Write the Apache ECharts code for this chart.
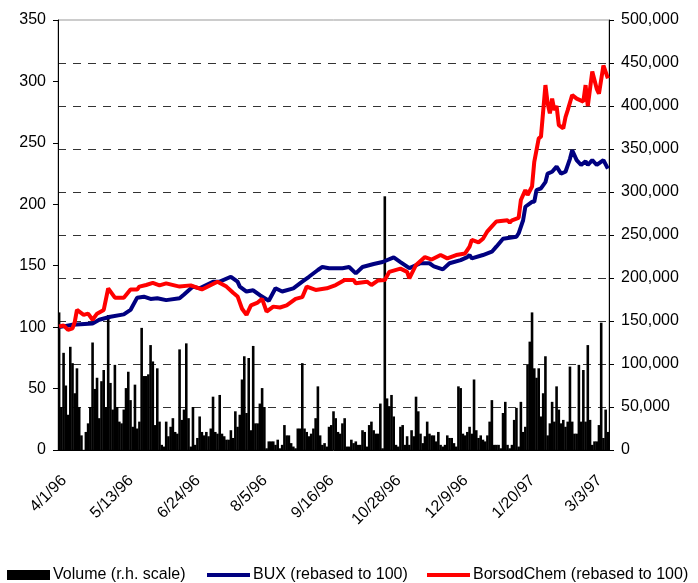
<!DOCTYPE html>
<html>
<head>
<meta charset="utf-8">
<script src="https://cdn.jsdelivr.net/npm/echarts@6/dist/echarts.min.js"></script>
<style>
  html, body { margin: 0; padding: 0; background: #fff; }
  #chart { width: 698px; height: 583px; }
</style>
</head>
<body>
<div id="chart"></div>
<script>
// daily trading volume (shares), one per business day from 4/1/96
const volume = [
  160000, 50000, 113000, 75000, 41000, 120000, 101000, 66000, 95000, 50000,
  17000, 0, 21000, 31000, 50000, 125000, 71000, 84000, 37000, 80000,
  93000, 50000, 157000, 78000, 47000, 99000, 50000, 33000, 31000, 47000,
  72000, 91000, 58000, 27000, 76000, 25000, 33000, 142000, 86000, 86000,
  88000, 122000, 103000, 29000, 95000, 33000, 6000, 4000, 33000, 16000,
  27000, 37000, 21000, 19000, 117000, 35000, 47000, 124000, 37000, 4000,
  50000,
  6000, 14000, 39000, 21000, 17000, 21000, 16000, 25000, 62000, 21000,
  19000, 64000, 19000, 16000, 12000, 12000, 23000, 14000, 45000, 27000,
  41000, 82000, 109000, 43000, 107000, 23000, 121000, 31000, 31000, 54000,
  72000, 50000, 2000, 10000, 10000, 10000, 6000, 12000, 2000, 6000,
  29000, 17000, 17000, 8000, 4000, 2000, 25000, 25000, 101000, 25000,
  21000, 16000, 19000, 25000, 37000, 74000, 17000, 6000, 8000, 4000,
  27000, 29000,
  45000, 37000, 21000, 19000, 31000, 37000, 4000, 4000, 12000, 8000,
  10000, 6000, 6000, 23000, 21000, 4000, 29000, 33000, 23000, 19000,
  19000, 54000, 2000, 295000, 60000, 51000, 64000, 39000, 6000, 4000,
  27000, 29000, 6000, 16000, 6000, 23000, 16000, 62000, 45000, 19000,
  8000, 16000, 33000, 19000, 17000, 17000, 10000, 21000, 6000, 4000,
  6000, 17000, 14000, 14000, 8000, 4000, 74000, 72000, 19000,
  17000, 21000, 27000, 19000, 82000, 23000, 14000, 17000, 12000, 10000,
  17000, 33000, 58000, 6000, 6000, 6000, 2000, 43000, 56000, 6000,
  2000, 6000, 35000, 49000, 4000, 56000, 21000, 27000, 99000, 126000,
  160000, 95000, 84000, 95000, 39000, 66000, 109000, 17000, 31000, 56000,
  33000, 74000, 47000, 31000, 35000, 27000, 33000, 97000, 33000, 19000,
  19000, 99000, 33000, 93000, 33000, 122000, 35000, 6000, 10000, 10000,
  29000, 148000, 14000, 47000, 21000
];

// [day index, value]
const bux = [
  [0, 100], [6, 102], [15, 103], [18, 106], [23, 108.5], [29, 110.4], [32, 114],
  [35, 124], [38, 124.8], [41, 123], [44, 123.5], [48, 122], [54, 123.5], [56, 126.6],
  [60, 133], [63, 131.6], [69, 137], [72, 137], [77, 141], [80, 137], [81, 133],
  [84, 129], [87, 130], [90, 126], [94, 121.5], [97, 131.6], [100, 129], [105, 131.6],
  [109, 137], [112, 141], [116, 146.5], [118, 149], [121, 148], [127, 148], [130, 149],
  [133, 143.8], [136, 149], [141, 151.4], [145, 153], [150, 156.8], [153, 153],
  [157, 148], [162, 152], [166, 152], [168, 149.5], [172, 147], [175, 152], [180, 154.6],
  [183, 157], [184, 158.7], [185, 156], [190, 158.7], [194, 161.4], [196, 165.5],
  [199, 172], [205, 173.6], [206, 176.4], [208, 187], [209, 198], [212, 202], [213, 202],
  [214, 211.6], [216, 213], [218, 218], [219, 225], [221, 226.5], [223, 230.6],
  [225, 225], [227, 226.5], [229, 237], [230, 244], [232, 236], [234, 232], [236, 235],
  [237, 232], [239, 236], [241, 232], [244, 236], [246, 229]
];

const borsod = [
  [0, 100.5], [2, 101.4], [4, 97.7], [6, 99], [7, 104], [8, 114], [11, 110], [13, 111],
  [15, 106], [17, 111], [20, 114], [22, 131.6], [25, 124], [29, 124], [32, 130.7],
  [35, 130.7], [36, 133], [39, 134.3], [42, 136], [45, 134], [48, 135.6], [54, 133],
  [59, 134], [64, 130.7], [71, 137], [75, 133], [78, 128], [80, 125], [82, 115],
  [84, 110], [86, 117.7], [89, 120], [91, 123], [93, 112.6], [96, 116.7], [99, 116],
  [102, 117.7], [106, 123], [109, 124.4], [111, 133], [115, 130.3], [120, 131.6],
  [124, 134.3], [128, 138.4], [132, 138.4], [133, 135.7], [138, 137], [140, 134.3],
  [143, 138], [146, 138.4], [148, 145], [153, 147.6], [156, 145], [157, 139.7],
  [160, 150.6], [164, 157], [167, 155], [171, 158.7], [174, 156], [178, 158.7],
  [182, 160], [184, 165.5], [185, 171], [188, 169], [190, 172], [192, 178], [194, 182],
  [196, 186], [201, 187], [202, 185], [203, 187], [206, 189], [207, 203.5], [209, 211.6],
  [210, 207.6], [212, 214.5], [213, 234.6], [215, 253.7], [216, 255], [218, 297],
  [219, 282], [220, 274], [221, 286], [222, 276.6], [223, 280], [224, 264.5],
  [226, 261.8], [227, 271], [228, 276.6], [230, 289], [232, 286], [235, 283.6],
  [236, 297], [237, 280], [239, 308], [241, 294], [242, 290], [244, 313], [246, 302.5]
];

const seriesNames = ['Volume (r.h. scale)', 'BUX (rebased to 100)', 'BorsodChem (rebased to 100)'];

// business days starting 4/1/96
const dates = [];
const d = new Date(1996, 3, 1);
while (dates.length < volume.length) {
  const wd = d.getDay();
  if (wd !== 0 && wd !== 6) {
    dates.push((d.getMonth() + 1) + '/' + d.getDate() + '/' + String(d.getFullYear()).slice(2));
  }
  d.setDate(d.getDate() + 1);
}

const font = 'Liberation Sans, Arial, sans-serif';
const lineIcon = 'path://M0,0L43,0L43,4L0,4Z';

function fmtThousands(v) {
  return String(v).replace(/\B(?=(\d{3})+(?!\d))/g, ',');
}

// one legend block per entry so each sits where the original has it
function legendAt(left, name, icon) {
  return {
    left: left,
    top: 567,
    padding: 0,
    itemWidth: 43,
    itemHeight: 10,
    symbolKeepAspect: true,
    textStyle: { fontSize: 16, color: '#000', fontFamily: font, padding: [0, 0, 0, -2] },
    data: [{ name: name, icon: icon }]
  };
}

const chart = echarts.init(document.getElementById('chart'));

chart.setOption({
  animation: false,
  textStyle: { fontFamily: font, color: '#000' },
  grid: {
    left: 58, right: 89, top: 20, bottom: 133,
    show: true, borderColor: '#999', borderWidth: 1, backgroundColor: 'transparent'
  },
  legend: [
    legendAt(7, seriesNames[0], 'rect'),
    legendAt(207, seriesNames[1], lineIcon),
    legendAt(427, seriesNames[2], lineIcon)
  ],
  xAxis: {
    type: 'category',
    data: dates,
    boundaryGap: true,
    axisLine: { lineStyle: { color: '#000', width: 1 } },
    axisTick: { interval: 0, length: 4, lineStyle: { color: '#000' } },
    axisLabel: {
      interval: 29,
      rotate: 45,
      margin: 33,
      padding: [0, -7, 0, 0],
      fontSize: 16,
      color: '#000',
      fontFamily: font
    },
    splitLine: { show: false }
  },
  yAxis: [
    {
      type: 'value',
      position: 'left',
      min: 0, max: 350, interval: 50,
      axisLine: { show: true, lineStyle: { color: '#000' } },
      axisTick: { show: true, length: 5, lineStyle: { color: '#000' } },
      axisLabel: { fontSize: 16, color: '#000', margin: 12, fontFamily: font },
      splitLine: { show: false }
    },
    {
      type: 'value',
      position: 'right',
      min: 0, max: 500000, interval: 50000,
      axisLine: { show: true, lineStyle: { color: '#000' } },
      axisTick: { show: true, length: 5, lineStyle: { color: '#000' } },
      axisLabel: { fontSize: 16, color: '#000', margin: 12, fontFamily: font, formatter: fmtThousands },
      splitLine: {
        show: true,
        showMinLine: false,
        showMaxLine: false,
        lineStyle: { color: '#333', width: 1, type: [8, 7] }
      }
    }
  ],
  series: [
    {
      name: seriesNames[0],
      type: 'bar',
      yAxisIndex: 1,
      data: volume,
      barWidth: 2.6,
      itemStyle: { color: '#000' }
    },
    {
      name: seriesNames[1],
      type: 'line',
      yAxisIndex: 0,
      data: bux,
      symbol: 'none',
      lineStyle: { color: '#000080', width: 4 },
      itemStyle: { color: '#000080' }
    },
    {
      name: seriesNames[2],
      type: 'line',
      yAxisIndex: 0,
      data: borsod,
      symbol: 'none',
      lineStyle: { color: '#ff0000', width: 4 },
      itemStyle: { color: '#ff0000' }
    }
  ]
});
</script>
</body>
</html>
